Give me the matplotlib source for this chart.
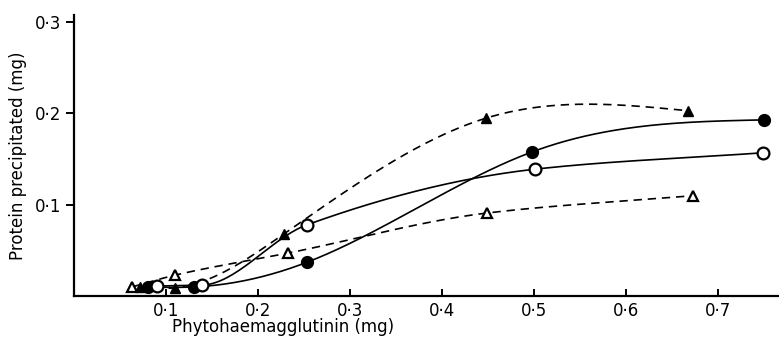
import numpy as np
import matplotlib
matplotlib.use('Agg')
import matplotlib.pyplot as plt

# values (mg)
filled_circle_x = [0.080, 0.130, 0.253, 0.498, 0.750]
filled_circle_y = [0.010, 0.010, 0.037, 0.158, 0.193]

open_circle_x = [0.090, 0.139, 0.253, 0.501, 0.749]
open_circle_y = [0.011, 0.012, 0.078, 0.139, 0.157]

filled_tri_x = [0.072, 0.110, 0.228, 0.448, 0.667]
filled_tri_y = [0.010, 0.009, 0.068, 0.195, 0.203]

open_tri_x = [0.063, 0.110, 0.232, 0.449, 0.673]
open_tri_y = [0.010, 0.023, 0.047, 0.091, 0.110]

x_ticks = [0.1, 0.2, 0.3, 0.4, 0.5, 0.6, 0.7]
x_tick_labels = ['0·1', '0·2', '0·3', '0·4', '0·5', '0·6', '0·7']
y_ticks = [0.1, 0.2, 0.3]
y_tick_labels = ['0·1', '0·2', '0·3']


def natural_spline(x, y, n=200):
    # plain natural cubic spline, for the hand-drawn looking curves
    x = np.asarray(x, float)
    y = np.asarray(y, float)
    k = len(x)
    h = np.diff(x)
    A = np.zeros((k, k))
    b = np.zeros(k)
    A[0, 0] = 1
    A[-1, -1] = 1
    for i in range(1, k - 1):
        A[i, i - 1] = h[i - 1]
        A[i, i] = 2 * (h[i - 1] + h[i])
        A[i, i + 1] = h[i]
        b[i] = 3 * ((y[i + 1] - y[i]) / h[i] - (y[i] - y[i - 1]) / h[i - 1])
    c = np.linalg.solve(A, b)
    xs = np.linspace(x[0], x[-1], n)
    ys = np.empty_like(xs)
    for j, xv in enumerate(xs):
        i = min(np.searchsorted(x, xv, side='right') - 1, k - 2)
        i = max(i, 0)
        bb = (y[i + 1] - y[i]) / h[i] - h[i] * (2 * c[i] + c[i + 1]) / 3
        d = (c[i + 1] - c[i]) / (3 * h[i])
        t = xv - x[i]
        ys[j] = y[i] + bb * t + c[i] * t ** 2 + d * t ** 3
    return xs, ys


def pchip(x, y, n=200):
    # monotone cubic (Fritsch-Carlson), no overshoot
    x = np.asarray(x, float)
    y = np.asarray(y, float)
    h = np.diff(x)
    delta = np.diff(y) / h
    m = np.zeros_like(y)
    for i in range(1, len(x) - 1):
        if delta[i - 1] * delta[i] > 0:
            w1 = 2 * h[i] + h[i - 1]
            w2 = h[i] + 2 * h[i - 1]
            m[i] = (w1 + w2) / (w1 / delta[i - 1] + w2 / delta[i])
    m[0] = delta[0]
    m[-1] = delta[-1]
    xs = np.linspace(x[0], x[-1], n)
    ys = np.empty_like(xs)
    for j, xv in enumerate(xs):
        i = min(max(np.searchsorted(x, xv, side='right') - 1, 0), len(x) - 2)
        t = (xv - x[i]) / h[i]
        h00 = 2 * t ** 3 - 3 * t ** 2 + 1
        h10 = t ** 3 - 2 * t ** 2 + t
        h01 = -2 * t ** 3 + 3 * t ** 2
        h11 = t ** 3 - t ** 2
        ys[j] = h00 * y[i] + h10 * h[i] * m[i] + h01 * y[i + 1] + h11 * h[i] * m[i + 1]
    return xs, ys


fig = plt.figure(figsize=(7.79, 3.38), dpi=100)
ax = fig.add_axes([0.095, 0.124, 0.905, 0.832])

dash = (0, (5, 3.5))
lw = 1.2

xs, ys = natural_spline(filled_circle_x, filled_circle_y)
ax.plot(xs, ys, color='black', lw=lw)
ax.plot(filled_circle_x, filled_circle_y, 'o', color='black', ms=8.5, zorder=5)

xs, ys = pchip(open_circle_x, open_circle_y)
ax.plot(xs, ys, color='black', lw=lw)
ax.plot(open_circle_x, open_circle_y, 'o', mfc='white', mec='black', mew=1.6, ms=8.5, zorder=5)

xs, ys = natural_spline(filled_tri_x, filled_tri_y)
ax.plot(xs, ys, color='black', lw=lw, linestyle=dash)
ax.plot(filled_tri_x, filled_tri_y, '^', color='black', ms=7.5, zorder=5)

xs, ys = pchip(open_tri_x, open_tri_y)
ax.plot(xs, ys, color='black', lw=lw, linestyle=dash)
ax.plot(open_tri_x, open_tri_y, '^', mfc='white', mec='black', mew=1.6, ms=7.5, zorder=5)

ax.set_xlim(0, 0.766)
ax.set_ylim(0, 0.308)

for s in ['top', 'right']:
    ax.spines[s].set_visible(False)
for s in ['left', 'bottom']:
    ax.spines[s].set_linewidth(1.6)

ax.set_xticks(x_ticks)
ax.set_xticklabels(x_tick_labels)
ax.set_yticks(y_ticks)
ax.set_yticklabels(y_tick_labels)
ax.tick_params(axis='x', direction='in', length=5, width=1.4, labelsize=12, pad=4)
ax.tick_params(axis='y', direction='out', length=6, width=1.4, labelsize=12, pad=3)

fig.text(283 / 779, 1 - 327 / 338, 'Phytohaemagglutinin (mg)', fontsize=12,
         ha='center', va='center')
ax.set_ylabel('Protein precipitated (mg)', fontsize=12, labelpad=6)

fig.savefig('out.png', dpi=100)
